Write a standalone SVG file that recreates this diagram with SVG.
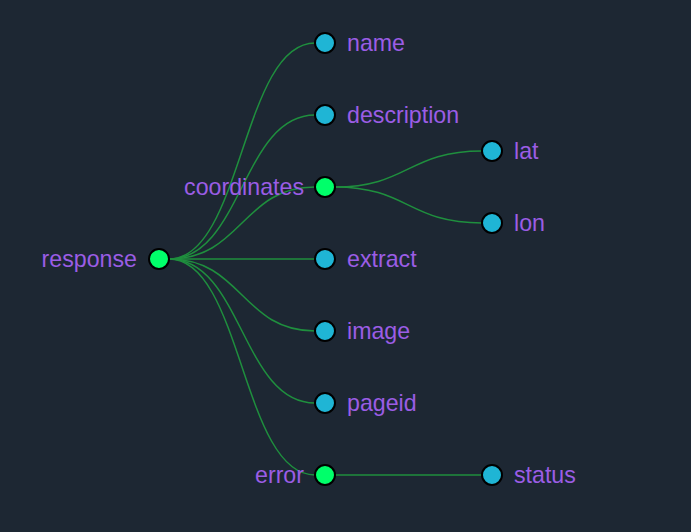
<svg xmlns="http://www.w3.org/2000/svg" width="691" height="532" viewBox="0 0 691 532">
<style>
.link{fill:none;stroke:#1f8f3e;stroke-width:1.5}
.node circle{stroke:#000;stroke-width:2}
.branch circle{fill:#00ff6a}
.leaf circle{fill:#1fb5d5}
text{font-family:"Liberation Sans",Arial,sans-serif;font-size:23.2px;fill:#9b5de5}
.r{text-anchor:start}
.l{text-anchor:end}
</style>
<rect width="691" height="532" fill="#1d2733"/>
<g id="links">
<path class="link" d="M169,259C242,259 242,43 315,43"/>
<path class="link" d="M169,259C242,259 242,115 315,115"/>
<path class="link" d="M169,259C242,259 242,187 315,187"/>
<path class="link" d="M169,259L315,259"/>
<path class="link" d="M169,259C242,259 242,331 315,331"/>
<path class="link" d="M169,259C242,259 242,403 315,403"/>
<path class="link" d="M169,259C242,259 242,475 315,475"/>
<path class="link" d="M335,187C408,187 408,151 482,151"/>
<path class="link" d="M335,187C408,187 408,223 482,223"/>
<path class="link" d="M335,475L482,475"/>
</g>
<g id="response" class="node branch"><circle cx="159" cy="259" r="10"/><text class="l" x="137" y="267">response</text></g>
<g id="name" class="node leaf"><circle cx="325" cy="43" r="10"/><text class="r" x="347" y="51">name</text></g>
<g id="description" class="node leaf"><circle cx="325" cy="115" r="10"/><text class="r" x="347" y="123">description</text></g>
<g id="coordinates" class="node branch"><circle cx="325" cy="187" r="10"/><text class="l" x="304" y="195">coordinates</text></g>
<g id="extract" class="node leaf"><circle cx="325" cy="259" r="10"/><text class="r" x="347" y="267">extract</text></g>
<g id="image" class="node leaf"><circle cx="325" cy="331" r="10"/><text class="r" x="347" y="339">image</text></g>
<g id="pageid" class="node leaf"><circle cx="325" cy="403" r="10"/><text class="r" x="347" y="411">pageid</text></g>
<g id="error" class="node branch"><circle cx="325" cy="475" r="10"/><text class="l" x="304" y="483">error</text></g>
<g id="lat" class="node leaf"><circle cx="492" cy="151" r="10"/><text class="r" x="514" y="159">lat</text></g>
<g id="lon" class="node leaf"><circle cx="492" cy="223" r="10"/><text class="r" x="514" y="231">lon</text></g>
<g id="status" class="node leaf"><circle cx="492" cy="475" r="10"/><text class="r" x="514" y="483">status</text></g>
</svg>
